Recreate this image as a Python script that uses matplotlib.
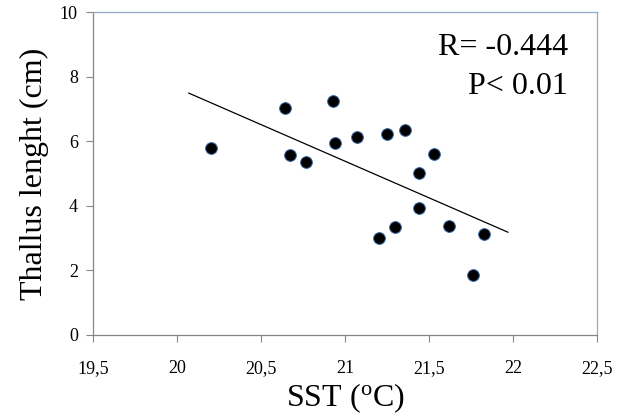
import matplotlib.pyplot as plt

plt.rcParams['font.family'] = ['Liberation Serif', 'DejaVu Serif']

# SST (oC) vs thallus length (cm)
sst = [20.20, 20.64, 20.67, 20.77, 20.93, 20.94, 21.07, 21.25, 21.36,
       21.53, 21.44, 21.44, 21.20, 21.30, 21.62, 21.83, 21.76]
thallus = [5.80, 7.03, 5.57, 5.36, 7.25, 5.93, 6.14, 6.23, 6.35,
           5.60, 5.00, 3.92, 3.01, 3.35, 3.37, 3.13, 1.86]

# linear trend
trend_x = [20.07, 21.97]
trend_y = [7.49, 3.18]

xticks = [19.5, 20, 20.5, 21, 21.5, 22, 22.5]
xticklabels = ['19,5', '20', '20,5', '21', '21,5', '22', '22,5']
yticks = [0, 2, 4, 6, 8, 10]

fig = plt.figure(figsize=(6.33, 4.18), dpi=100)
ax = fig.add_axes([0.147, 0.199, 0.796, 0.772])

ax.plot(trend_x, trend_y, color='black', lw=0.9, zorder=2)
ax.scatter(sst, thallus, s=72, c='black', edgecolors='#3E6DA8',
           linewidths=0.7, zorder=3)

ax.set_xlim(19.5, 22.5)
ax.set_ylim(0, 10)
ax.set_xticks(xticks)
ax.set_xticklabels(xticklabels)
ax.set_yticks(yticks)

ax.tick_params(axis='both', direction='out', length=5, width=0.8,
               color='#868686', labelsize=13, pad=6)
ax.tick_params(axis='x', pad=13)

for side in ['left', 'bottom']:
    ax.spines[side].set_color('#868686')
for side in ['top', 'right']:
    ax.spines[side].set_color('#8EAAD2')
for sp in ax.spines.values():
    sp.set_linewidth(0.9)

ax.set_xlabel('SST ($\\mathregular{^{o}}$C)', fontsize=23, labelpad=3)
ax.set_ylabel('Thallus lenght (cm)', fontsize=23, labelpad=8)

ax.text(0.942, 0.89, 'R= -0.444', transform=ax.transAxes, ha='right',
        va='center', fontsize=23)
ax.text(0.942, 0.771, 'P< 0.01', transform=ax.transAxes, ha='right',
        va='center', fontsize=23)

fig.savefig('out.png', dpi=100)
